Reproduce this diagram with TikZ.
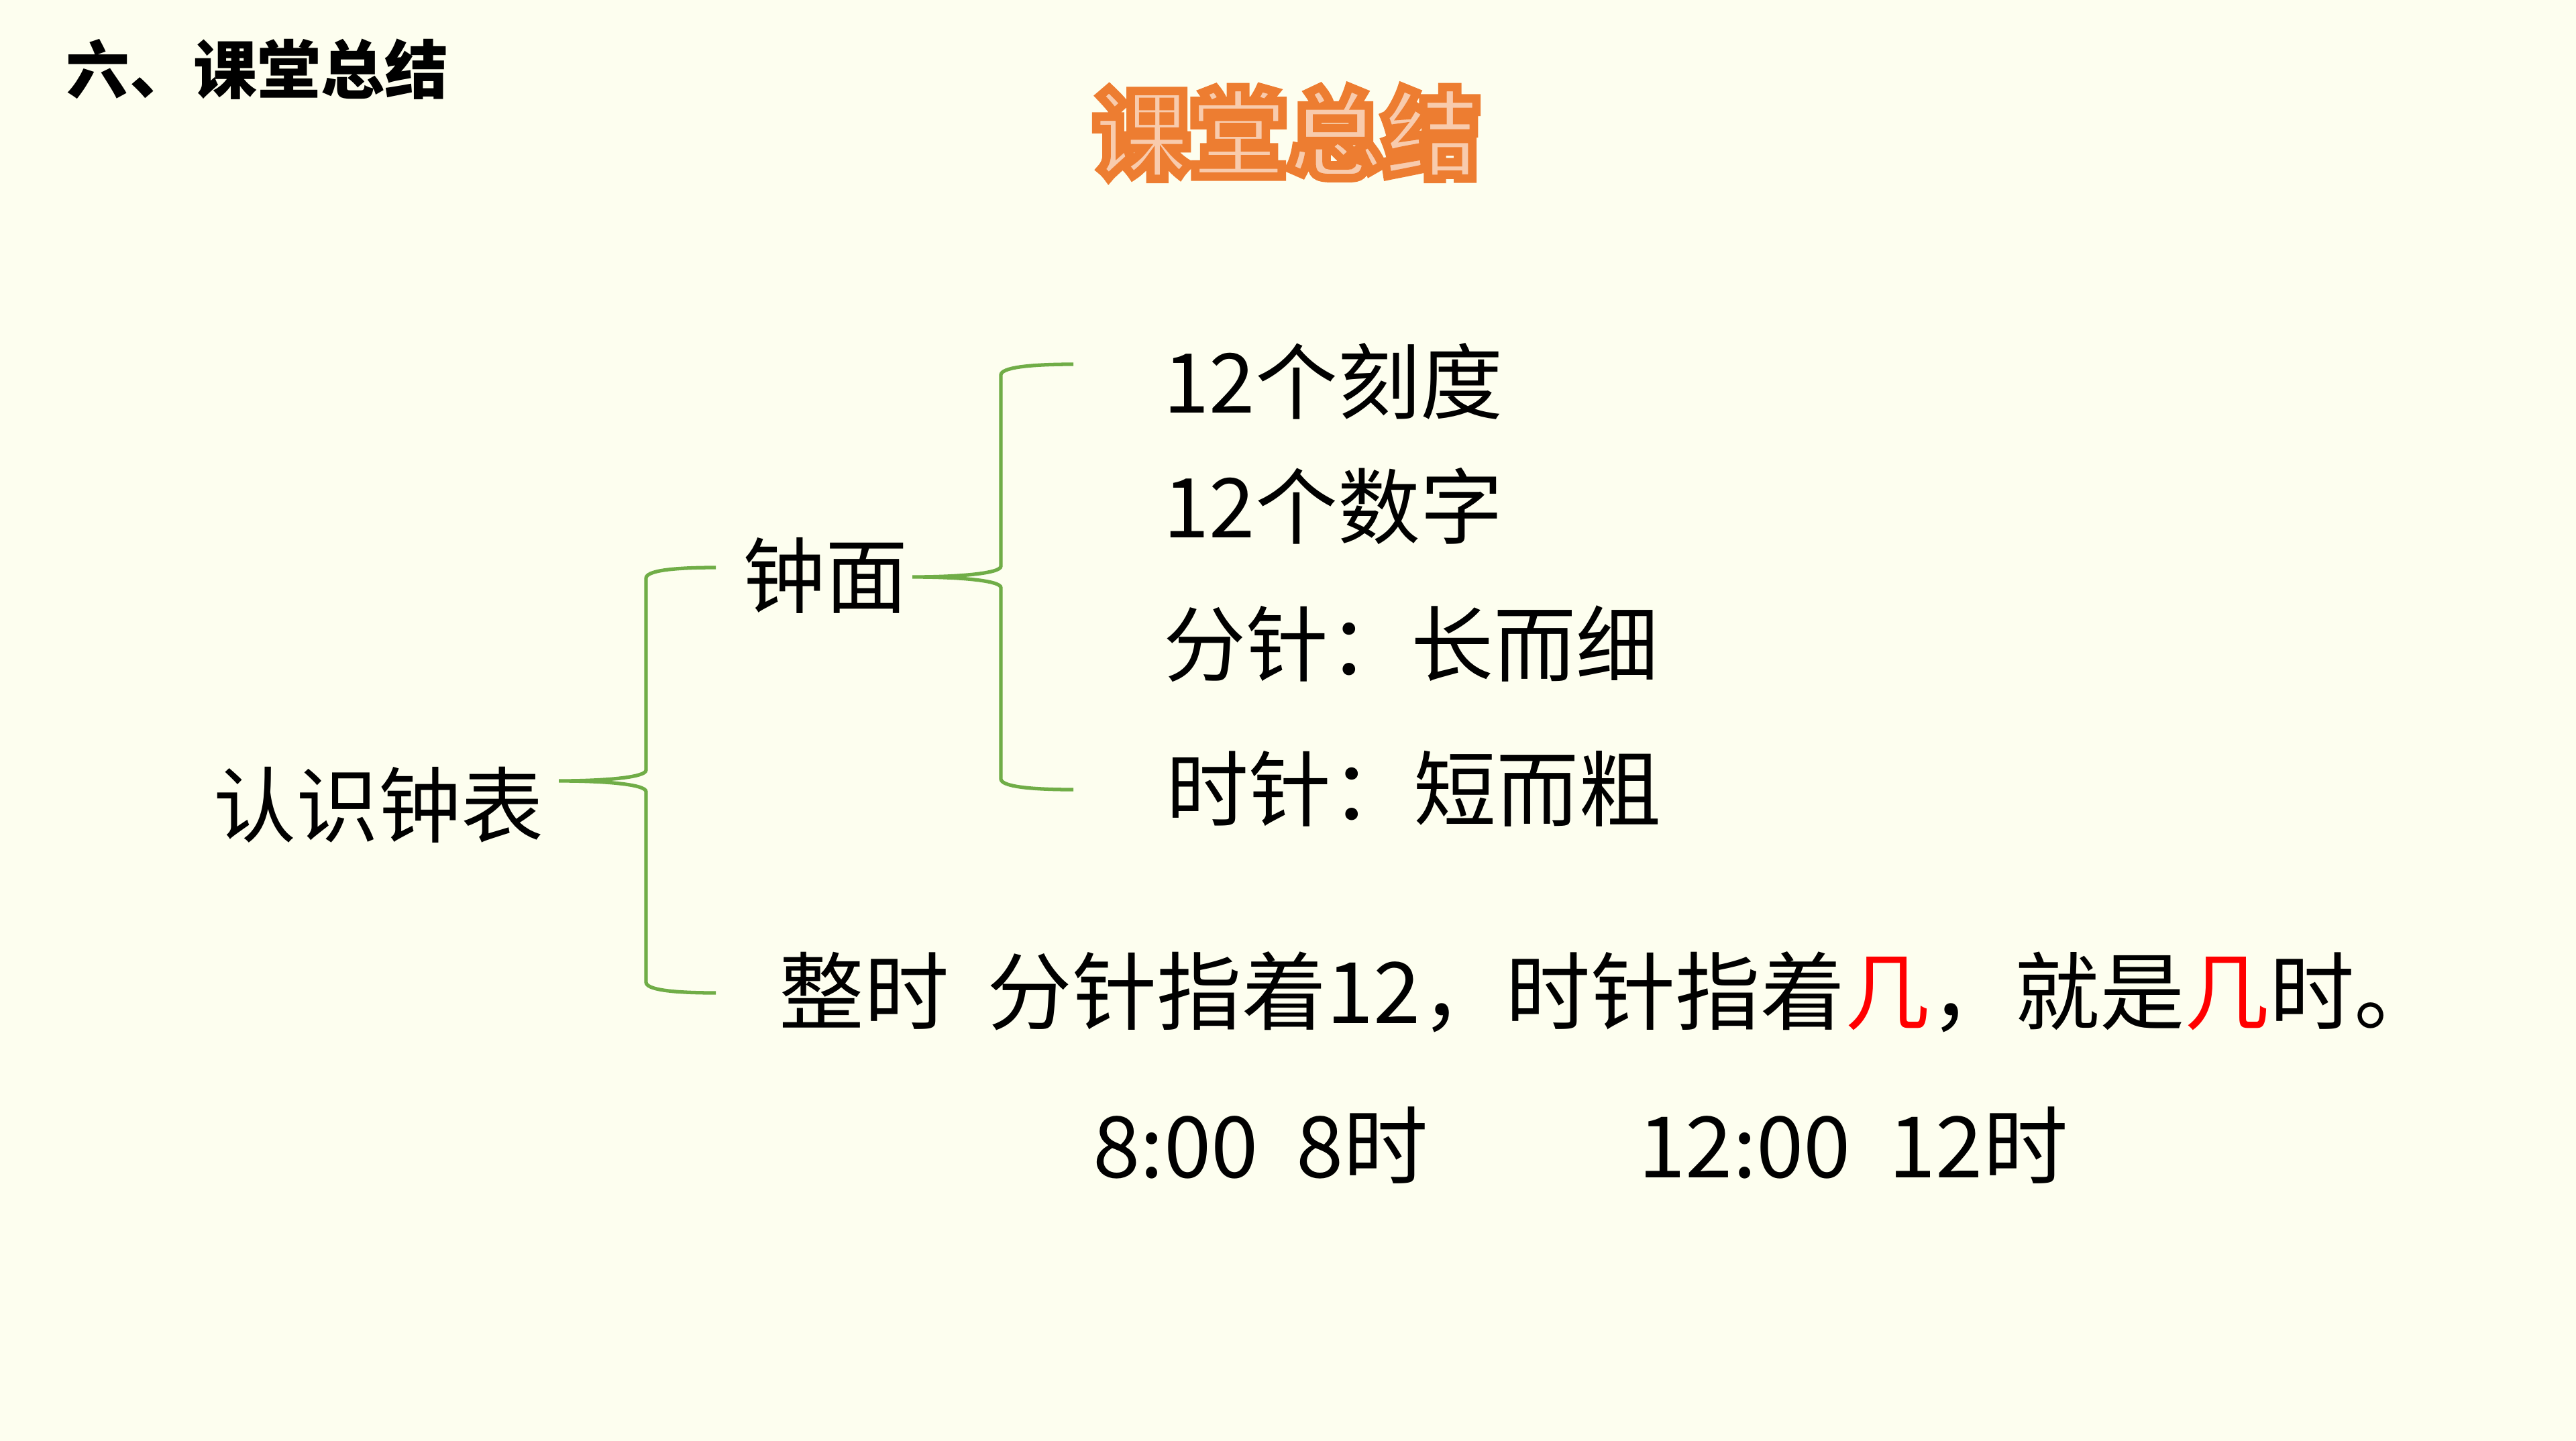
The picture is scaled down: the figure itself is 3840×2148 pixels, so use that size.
\documentclass[tikz,border=0pt]{standalone}
\usepackage{fontspec}
\setmainfont{Noto Sans CJK SC}
\usetikzlibrary{calc}
\definecolor{paper}{RGB}{253,254,239}
\definecolor{bracegreen}{RGB}{112,173,71}
\definecolor{titlefill}{RGB}{248,203,173}
\tikzset{
	item/.style={anchor=west, inner sep=0pt, font=\fontsize{35}{42}\selectfont},
	wideitem/.style={item, font=\fontsize{36}{42}\selectfont},
	sectionhead/.style={anchor=west, inner sep=0pt, font=\fontsize{27}{32}\selectfont\bfseries},
	titletext/.style={inner sep=0pt, text=titlefill, font=\fontsize{41}{48}\selectfont\bfseries},
	bracestyle/.style={draw=bracegreen, line width=1.5pt}
}
% orange outline round the title glyphs
\newcommand{\outlined}[1]{\special{pdf:literal direct 2 Tr 3.6 w 0.929 0.490 0.192 RG}#1}
% #1 tip, #2 upper end, #3 lower end, #4 a point on the bar
\newcommand{\greenbrace}[4]{%
	\draw[bracestyle] (#2) .. controls ($(#2)+(-67,0)$) and ($(#4|-#2)+(0,5)$) .. ($(#4|-#2)+(0,16)$)
		-- ($(#4|-#1)+(0,-16)$) .. controls ($(#4|-#1)+(0,-5)$) and ($(#1)+(67,0)$) .. (#1)
		.. controls ($(#1)+(67,0)$) and ($(#4|-#1)+(0,5)$) .. ($(#4|-#1)+(0,16)$)
		-- ($(#4|-#3)+(0,-16)$) .. controls ($(#4|-#3)+(0,-5)$) and ($(#3)+(-67,0)$) .. (#3);}

\begin{document}
\begin{tikzpicture}[x=0.1mm, y=-0.1mm]
	% page
	\fill[paper] (0,0) rectangle (3840,2148);
	\useasboundingbox (0,0) rectangle (3840,2148);

	% heading and title
	\node[sectionhead] (section) at (98,103) {六、课堂总结};
	\node[titletext] (title) at (1918,198) {\outlined{课堂总结}};

	% tree
	\node[item] (renshi) at (318,1200) {认识钟表};
	\node[item] (zhongmian) at (1107,858) {钟面};
	\node[item] (kedu) at (1734,568) {12个刻度};
	\node[item] (shuzi) at (1734,754) {12个数字};
	\node[item] (fenzhen) at (1734,960) {分针：长而细};
	\node[item] (shizhen) at (1738,1176) {时针：短而粗};
	\node[wideitem] (zhengshi) at (1161,1479) {整时\hspace{0.45em}分针指着12，时针指着\textcolor{red}{几}，就是\textcolor{red}{几}时。};
	\node[wideitem] (eight) at (1629,1707) {8:00\hspace{0.45em}8时};
	\node[wideitem] (twelve) at (2442,1707) {12:00\hspace{0.45em}12时};

	% braces
	\coordinate (tipA) at (833,1164);
	\coordinate (barA) at (963,1164);
	\coordinate (topA) at (1067,846);
	\coordinate (botA) at (1067,1480);
	\greenbrace{tipA}{topA}{botA}{barA}
	\coordinate (tipB) at (1360,860);
	\coordinate (barB) at (1492,860);
	\coordinate (topB) at (1600,543);
	\coordinate (botB) at (1600,1177);
	\greenbrace{tipB}{topB}{botB}{barB}
\end{tikzpicture}
\end{document}
